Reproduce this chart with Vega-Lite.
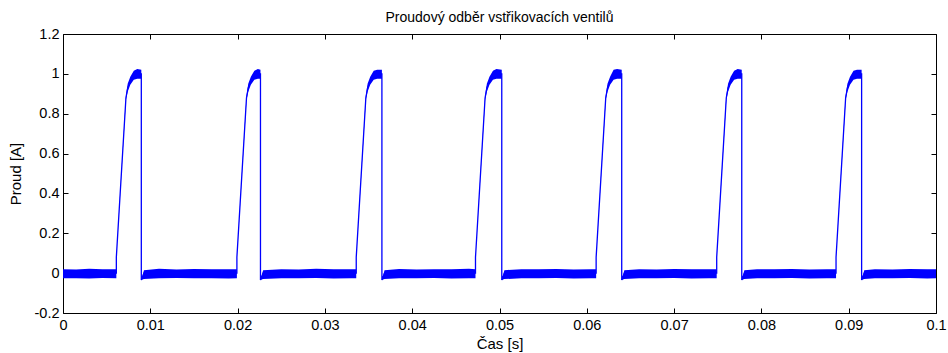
{
  "$schema": "https://vega.github.io/schema/vega-lite/v6.json",
  "autosize": "none",
  "width": 873,
  "height": 279,
  "padding": {"left": 63, "top": 34, "right": 12, "bottom": 40},
  "background": "white",
  "title": {"text": "Proudový odběr vstřikovacích ventilů", "font": "Liberation Sans", "fontSize": 14, "fontWeight": "normal", "color": "#000000", "offset": 1, "anchor": "middle"},
  "config": {
    "view": {"stroke": "#000000", "strokeWidth": 1},
    "axis": {"domain": false, "grid": false, "tickColor": "#000000", "tickSize": -5, "labelPadding": 9, "labelFont": "Liberation Sans", "labelFontSize": 14.5, "labelColor": "#000000", "titleFont": "Liberation Sans", "titleFontSize": 15, "titleFontWeight": "normal", "titleColor": "#000000"}
  },
  "data": {"values": [
    {"t": 0.0, "v": 0, "lo": -0.026, "hi": 0.02},
    {"t": 0.0015, "v": 0, "lo": -0.025, "hi": 0.018},
    {"t": 0.003, "v": 0, "lo": -0.027, "hi": 0.022},
    {"t": 0.0045, "v": 0, "lo": -0.024, "hi": 0.019},
    {"t": 0.00611, "v": 0, "lo": -0.026, "hi": 0.021},
    {"t": 0.00611, "v": 0.08, "lo": 0.08, "hi": 0.08},
    {"t": 0.00721, "v": 0.88, "lo": 0.87, "hi": 0.89},
    {"t": 0.00741, "v": 0.93, "lo": 0.91, "hi": 0.95},
    {"t": 0.00771, "v": 0.965, "lo": 0.945, "hi": 0.985},
    {"t": 0.00811, "v": 0.99, "lo": 0.97, "hi": 1.015},
    {"t": 0.00851, "v": 1.0, "lo": 0.975, "hi": 1.025},
    {"t": 0.00897, "v": 1.0, "lo": 0.975, "hi": 1.02},
    {"t": 0.00897, "v": -0.035, "lo": -0.035, "hi": -0.035},
    {"t": 0.00927, "v": 0, "lo": -0.03, "hi": 0.015},
    {"t": 0.011, "v": 0, "lo": -0.025, "hi": 0.022},
    {"t": 0.013, "v": 0, "lo": -0.024, "hi": 0.018},
    {"t": 0.015, "v": 0, "lo": -0.026, "hi": 0.021},
    {"t": 0.017, "v": 0, "lo": -0.025, "hi": 0.019},
    {"t": 0.019, "v": 0, "lo": -0.027, "hi": 0.02},
    {"t": 0.01992, "v": 0, "lo": -0.025, "hi": 0.02},
    {"t": 0.01992, "v": 0.08, "lo": 0.08, "hi": 0.08},
    {"t": 0.02102, "v": 0.88, "lo": 0.87, "hi": 0.89},
    {"t": 0.02122, "v": 0.93, "lo": 0.91, "hi": 0.95},
    {"t": 0.02152, "v": 0.965, "lo": 0.945, "hi": 0.985},
    {"t": 0.02192, "v": 0.99, "lo": 0.97, "hi": 1.015},
    {"t": 0.02232, "v": 1.0, "lo": 0.975, "hi": 1.025},
    {"t": 0.02262, "v": 1.0, "lo": 0.975, "hi": 1.02},
    {"t": 0.02262, "v": -0.035, "lo": -0.035, "hi": -0.035},
    {"t": 0.02292, "v": 0, "lo": -0.03, "hi": 0.015},
    {"t": 0.025, "v": 0, "lo": -0.025, "hi": 0.02},
    {"t": 0.027, "v": 0, "lo": -0.026, "hi": 0.018},
    {"t": 0.029, "v": 0, "lo": -0.024, "hi": 0.022},
    {"t": 0.031, "v": 0, "lo": -0.027, "hi": 0.019},
    {"t": 0.033, "v": 0, "lo": -0.025, "hi": 0.02},
    {"t": 0.03359, "v": 0, "lo": -0.025, "hi": 0.02},
    {"t": 0.03359, "v": 0.08, "lo": 0.08, "hi": 0.08},
    {"t": 0.03469, "v": 0.88, "lo": 0.87, "hi": 0.89},
    {"t": 0.03489, "v": 0.93, "lo": 0.91, "hi": 0.95},
    {"t": 0.03519, "v": 0.965, "lo": 0.945, "hi": 0.985},
    {"t": 0.03559, "v": 0.99, "lo": 0.97, "hi": 1.015},
    {"t": 0.03599, "v": 1.0, "lo": 0.975, "hi": 1.02},
    {"t": 0.03653, "v": 1.0, "lo": 0.975, "hi": 1.02},
    {"t": 0.03653, "v": -0.035, "lo": -0.035, "hi": -0.035},
    {"t": 0.03683, "v": 0, "lo": -0.03, "hi": 0.015},
    {"t": 0.0385, "v": 0, "lo": -0.025, "hi": 0.021},
    {"t": 0.0405, "v": 0, "lo": -0.026, "hi": 0.018},
    {"t": 0.0425, "v": 0, "lo": -0.024, "hi": 0.02},
    {"t": 0.0445, "v": 0, "lo": -0.027, "hi": 0.019},
    {"t": 0.0465, "v": 0, "lo": -0.025, "hi": 0.022},
    {"t": 0.04725, "v": 0, "lo": -0.025, "hi": 0.02},
    {"t": 0.04725, "v": 0.08, "lo": 0.08, "hi": 0.08},
    {"t": 0.04835, "v": 0.88, "lo": 0.87, "hi": 0.89},
    {"t": 0.04855, "v": 0.93, "lo": 0.91, "hi": 0.95},
    {"t": 0.04885, "v": 0.965, "lo": 0.945, "hi": 0.985},
    {"t": 0.04925, "v": 0.99, "lo": 0.97, "hi": 1.015},
    {"t": 0.04965, "v": 1.0, "lo": 0.975, "hi": 1.025},
    {"t": 0.05026, "v": 1.0, "lo": 0.975, "hi": 1.02},
    {"t": 0.05026, "v": -0.035, "lo": -0.035, "hi": -0.035},
    {"t": 0.05056, "v": 0, "lo": -0.03, "hi": 0.015},
    {"t": 0.0525, "v": 0, "lo": -0.025, "hi": 0.02},
    {"t": 0.0545, "v": 0, "lo": -0.026, "hi": 0.019},
    {"t": 0.0565, "v": 0, "lo": -0.024, "hi": 0.021},
    {"t": 0.0585, "v": 0, "lo": -0.027, "hi": 0.018},
    {"t": 0.0605, "v": 0, "lo": -0.025, "hi": 0.02},
    {"t": 0.06107, "v": 0, "lo": -0.025, "hi": 0.02},
    {"t": 0.06107, "v": 0.08, "lo": 0.08, "hi": 0.08},
    {"t": 0.06217, "v": 0.88, "lo": 0.87, "hi": 0.89},
    {"t": 0.06237, "v": 0.93, "lo": 0.91, "hi": 0.95},
    {"t": 0.06267, "v": 0.965, "lo": 0.945, "hi": 0.985},
    {"t": 0.06307, "v": 0.99, "lo": 0.97, "hi": 1.02},
    {"t": 0.06347, "v": 1.0, "lo": 0.975, "hi": 1.025},
    {"t": 0.064, "v": 1.0, "lo": 0.975, "hi": 1.02},
    {"t": 0.064, "v": -0.035, "lo": -0.035, "hi": -0.035},
    {"t": 0.0643, "v": 0, "lo": -0.03, "hi": 0.015},
    {"t": 0.066, "v": 0, "lo": -0.025, "hi": 0.02},
    {"t": 0.068, "v": 0, "lo": -0.026, "hi": 0.018},
    {"t": 0.07, "v": 0, "lo": -0.024, "hi": 0.021},
    {"t": 0.072, "v": 0, "lo": -0.027, "hi": 0.019},
    {"t": 0.074, "v": 0, "lo": -0.025, "hi": 0.02},
    {"t": 0.07488, "v": 0, "lo": -0.025, "hi": 0.02},
    {"t": 0.07488, "v": 0.08, "lo": 0.08, "hi": 0.08},
    {"t": 0.07598, "v": 0.88, "lo": 0.87, "hi": 0.89},
    {"t": 0.07618, "v": 0.93, "lo": 0.91, "hi": 0.95},
    {"t": 0.07648, "v": 0.965, "lo": 0.945, "hi": 0.985},
    {"t": 0.07688, "v": 0.99, "lo": 0.97, "hi": 1.015},
    {"t": 0.07728, "v": 1.0, "lo": 0.975, "hi": 1.025},
    {"t": 0.07775, "v": 1.0, "lo": 0.975, "hi": 1.02},
    {"t": 0.07775, "v": -0.035, "lo": -0.035, "hi": -0.035},
    {"t": 0.07805, "v": 0, "lo": -0.03, "hi": 0.015},
    {"t": 0.0795, "v": 0, "lo": -0.025, "hi": 0.02},
    {"t": 0.0815, "v": 0, "lo": -0.026, "hi": 0.019},
    {"t": 0.0835, "v": 0, "lo": -0.024, "hi": 0.021},
    {"t": 0.0855, "v": 0, "lo": -0.027, "hi": 0.018},
    {"t": 0.0875, "v": 0, "lo": -0.025, "hi": 0.02},
    {"t": 0.08855, "v": 0, "lo": -0.025, "hi": 0.02},
    {"t": 0.08855, "v": 0.08, "lo": 0.08, "hi": 0.08},
    {"t": 0.08965, "v": 0.88, "lo": 0.87, "hi": 0.89},
    {"t": 0.08985, "v": 0.93, "lo": 0.91, "hi": 0.95},
    {"t": 0.09015, "v": 0.965, "lo": 0.945, "hi": 0.985},
    {"t": 0.09055, "v": 0.99, "lo": 0.97, "hi": 1.015},
    {"t": 0.09095, "v": 1.0, "lo": 0.975, "hi": 1.02},
    {"t": 0.09148, "v": 1.0, "lo": 0.975, "hi": 1.02},
    {"t": 0.09148, "v": -0.035, "lo": -0.035, "hi": -0.035},
    {"t": 0.09178, "v": 0, "lo": -0.03, "hi": 0.015},
    {"t": 0.093, "v": 0, "lo": -0.025, "hi": 0.02},
    {"t": 0.095, "v": 0, "lo": -0.026, "hi": 0.018},
    {"t": 0.097, "v": 0, "lo": -0.024, "hi": 0.021},
    {"t": 0.099, "v": 0, "lo": -0.027, "hi": 0.019},
    {"t": 0.1, "v": 0, "lo": -0.025, "hi": 0.02}
  ]},
  "layer": [
    {
      "mark": {"type": "area", "color": "#0000ff", "opacity": 1, "clip": true},
      "encoding": {
        "x": {"field": "t", "type": "quantitative", "scale": {"domain": [0, 0.1], "nice": false, "zero": false},
              "axis": {"orient": "bottom", "title": "Čas [s]", "titlePadding": 5, "labelPadding": 10, "values": [0, 0.01, 0.02, 0.03, 0.04, 0.05, 0.06, 0.07, 0.08, 0.09, 0.1],
                       "labelExpr": "format(datum.value, '~g')", "labelFlush": false, "labelOverlap": false}},
        "y": {"field": "lo", "type": "quantitative", "scale": {"domain": [-0.2, 1.2], "nice": false, "zero": false},
              "axis": {"orient": "left", "title": "Proud [A]", "titlePadding": 11, "values": [-0.2, 0, 0.2, 0.4, 0.6, 0.8, 1, 1.2],
                       "labelExpr": "datum.value < 0 ? '-' + format(-datum.value, '~g') : format(datum.value, '~g')", "labelFlush": false, "labelOverlap": false}},
        "y2": {"field": "hi"}
      }
    },
    {
      "mark": {"type": "line", "color": "#0000ff", "strokeWidth": 1.3, "clip": true},
      "encoding": {
        "x": {"field": "t", "type": "quantitative", "scale": {"domain": [0, 0.1], "nice": false, "zero": false},
              "axis": {"orient": "top", "title": null, "labels": false, "values": [0, 0.01, 0.02, 0.03, 0.04, 0.05, 0.06, 0.07, 0.08, 0.09, 0.1]}},
        "y": {"field": "v", "type": "quantitative", "scale": {"domain": [-0.2, 1.2], "nice": false, "zero": false},
              "axis": {"orient": "right", "title": null, "labels": false, "values": [-0.2, 0, 0.2, 0.4, 0.6, 0.8, 1, 1.2]}}
      }
    }
  ],
  "resolve": {"axis": {"x": "independent", "y": "independent"}}
}
